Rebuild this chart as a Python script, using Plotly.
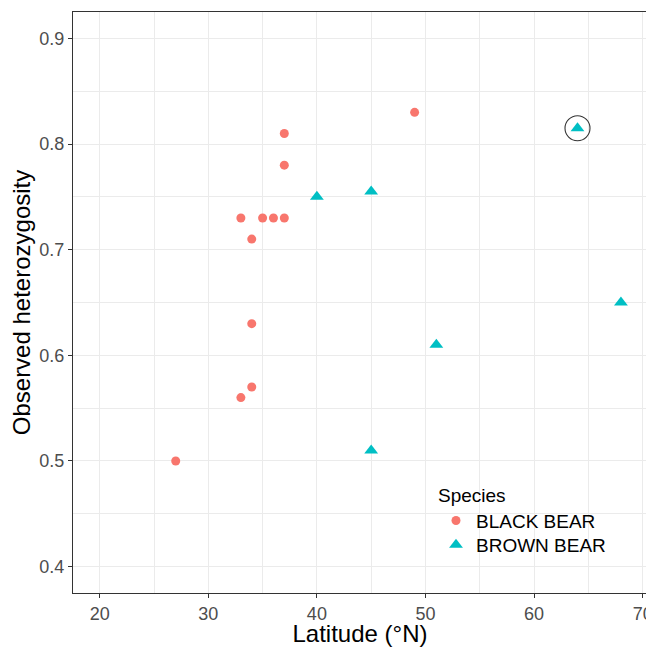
import plotly.graph_objects as go

# Data
black_lat = [27, 33, 33, 34, 34, 34, 35, 36, 37, 37, 37, 49]
black_het = [0.50, 0.56, 0.73, 0.71, 0.63, 0.57, 0.73, 0.73, 0.73, 0.78, 0.81, 0.83]
brown_lat = [40, 45, 45, 51, 64, 68]
brown_het = [0.75, 0.755, 0.51, 0.61, 0.815, 0.65]
highlight_lat = [64]
highlight_het = [0.815]

x_ticks = [20, 30, 40, 50, 60, 70]
y_ticks = [0.4, 0.5, 0.6, 0.7, 0.8, 0.9]

RED = "#F8766D"
TEAL = "#00BFC4"
FONT = "Liberation Sans, Arial, sans-serif"

# The page body has an 8px margin; compensate so the plot lands where the reference has it.
OFF = 8
W, H = 654 - OFF, 647 - OFF
ML, MR, MT, MB = 73 - OFF, 7, 12 - OFF, 54
PW, PH = W - ML - MR, H - MT - MB


def px_x(p):
    # page pixel -> paper fraction
    return (p - OFF - ML) / PW


def px_y(p):
    return (H - MB - (p - OFF)) / PH


fig = go.Figure()
fig.add_trace(go.Scatter(
    x=black_lat, y=black_het, mode="markers", name="BLACK BEAR",
    marker=dict(symbol="circle", size=9, color=RED),
    legend="legend",
))
fig.add_trace(go.Scatter(
    x=brown_lat, y=brown_het, mode="markers", name="BROWN BEAR",
    marker=dict(symbol="triangle-up", size=12, color=TEAL),
    legend="legend2",
))
fig.add_trace(go.Scatter(
    x=highlight_lat, y=highlight_het, mode="markers", showlegend=False,
    marker=dict(symbol="circle-open", size=25, color="#333333", line=dict(width=1.1, color="#333333")),
    hoverinfo="skip",
))

axis_common = dict(
    showline=True, linecolor="#333333", linewidth=1.1, mirror=True,
    ticks="outside", ticklen=4, tickcolor="#333333", tickwidth=1,
    showgrid=True, gridcolor="#EBEBEB", gridwidth=1,
    zeroline=False, automargin=False,
    tickfont=dict(family=FONT, size=18, color="#4D4D4D"),
)

fig.update_xaxes(
    range=[17.54, 70.4], tickvals=x_ticks, ticktext=[str(v) for v in x_ticks],
    minor=dict(dtick=5, tick0=15, showgrid=True, gridcolor="#EBEBEB", gridwidth=0.6, ticklen=0),
    title=dict(text="Latitude (°N)", font=dict(family=FONT, size=24, color="black"), standoff=5),
    **axis_common,
)
fig.update_yaxes(
    range=[0.375, 0.925], tickvals=y_ticks, ticktext=[f"{v:.1f}" for v in y_ticks],
    minor=dict(dtick=0.05, tick0=0.35, showgrid=True, gridcolor="#EBEBEB", gridwidth=0.6, ticklen=0),
    title=dict(text="Observed heterozygosity", font=dict(family=FONT, size=24, color="black"), standoff=5),
    **axis_common,
)

legend_font = dict(family=FONT, size=19, color="black")

fig.update_layout(
    width=W, height=H,
    margin=dict(l=ML, r=MR, t=MT, b=MB),
    plot_bgcolor="white", paper_bgcolor="white",
    showlegend=True,
    legend=dict(
        x=px_x(436), y=px_y(477), xanchor="left", yanchor="top",
        bgcolor="rgba(0,0,0,0)", borderwidth=0, font=legend_font,
        title=dict(text="Species", font=legend_font),
    ),
    legend2=dict(
        x=px_x(436), y=px_y(526), xanchor="left", yanchor="top",
        bgcolor="rgba(0,0,0,0)", borderwidth=0, font=legend_font,
    ),
    shapes=[dict(
        type="rect", xref="paper", yref="paper", layer="between",
        x0=px_x(435), x1=px_x(618), y0=px_y(565), y1=px_y(473),
        fillcolor="white", line=dict(width=0),
    )],
)

fig.write_html("out.html")
